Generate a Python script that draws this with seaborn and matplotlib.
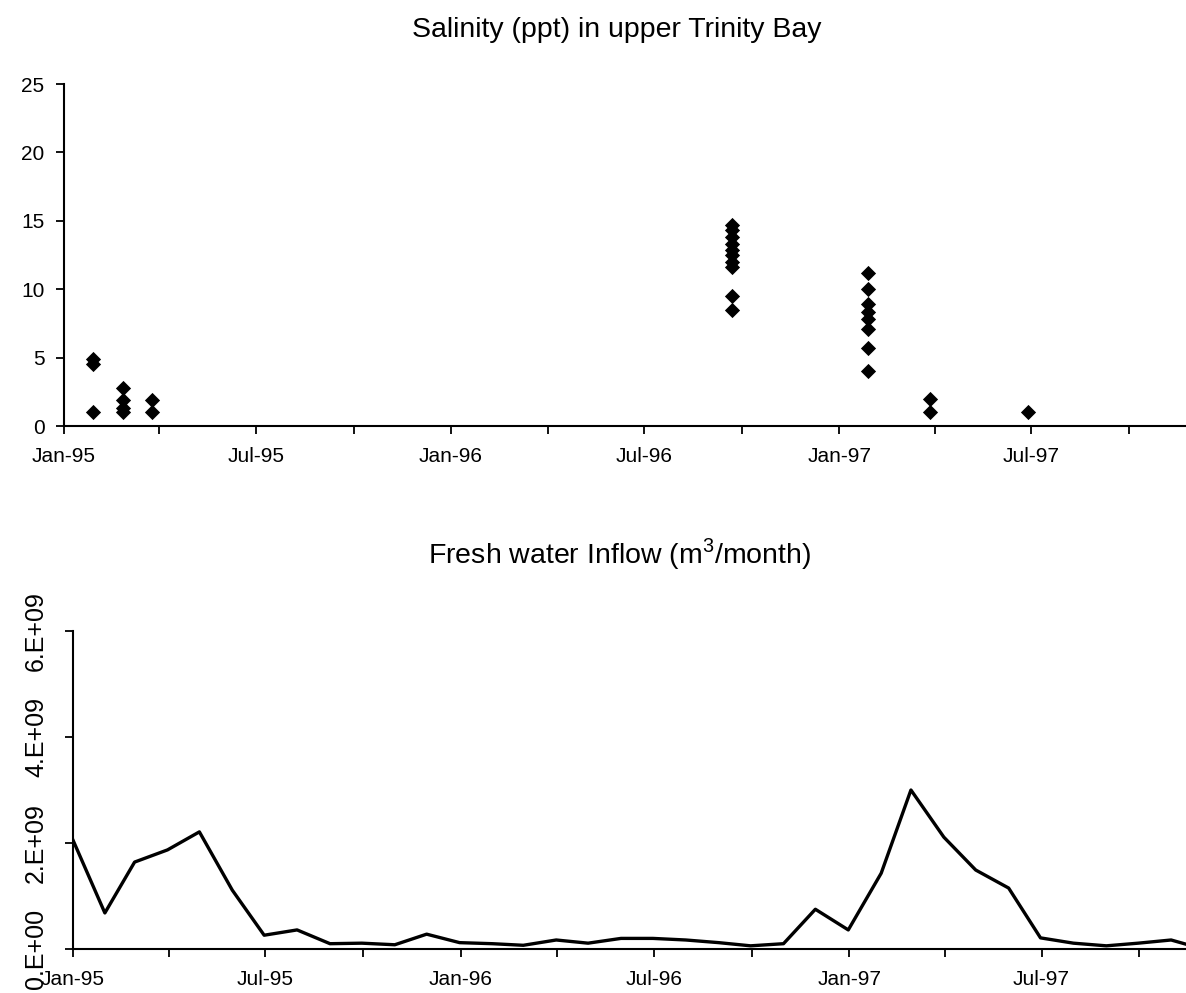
import matplotlib
matplotlib.use("Agg")
import matplotlib.pyplot as plt
import matplotlib.dates as mdates
from matplotlib.ticker import FuncFormatter, MultipleLocator
import numpy as np
import pandas as pd
import seaborn as sns

# --- Salinity samples (ppt), grouped by survey date ---
survey_dates = ["1995-01-28", "1995-02-26", "1995-03-25", "1996-09-22",
                "1997-01-28", "1997-03-28", "1997-06-28"]
salinity_by_survey = [
    [4.9, 4.5, 1.0],
    [2.8, 1.9, 1.3, 1.0],
    [1.9, 1.0],
    [14.7, 14.3, 13.8, 13.3, 12.9, 12.5, 12.0, 11.6, 9.5, 8.5],
    [11.2, 10.0, 8.9, 8.3, 7.8, 7.1, 5.7, 4.0],
    [2.0, 1.0],
    [1.0],
]

# --- Monthly fresh water inflow (m^3/month), month-end values ---
inflow_months = pd.date_range("1994-12-01", "1997-11-01", freq="MS").strftime("%Y-%m").tolist()
inflow_m3 = [2.10e9, 0.68e9, 1.64e9, 1.87e9, 2.21e9, 1.11e9, 0.26e9, 0.36e9,
             0.10e9, 0.11e9, 0.08e9, 0.28e9, 0.12e9, 0.10e9, 0.07e9, 0.17e9,
             0.11e9, 0.20e9, 0.20e9, 0.17e9, 0.12e9, 0.06e9, 0.10e9, 0.75e9,
             0.36e9, 1.43e9, 3.00e9, 2.11e9, 1.49e9, 1.15e9, 0.21e9, 0.11e9,
             0.06e9, 0.11e9, 0.17e9, 0.00e9]

sal_df = pd.DataFrame({
    "date": pd.to_datetime([d for d, vals in zip(survey_dates, salinity_by_survey) for _ in vals]),
    "salinity": [v for vals in salinity_by_survey for v in vals],
})
flow_df = pd.DataFrame({
    "date": pd.to_datetime(inflow_months) + pd.offsets.MonthEnd(0),
    "inflow": inflow_m3,
})

sns.set_theme(style="ticks")
plt.rcParams["font.family"] = ["Liberation Sans", "DejaVu Sans"]
plt.rcParams["axes.linewidth"] = 1.5
plt.rcParams["text.color"] = "black"
plt.rcParams["axes.titlecolor"] = "black"
plt.rcParams["mathtext.fontset"] = "custom"
plt.rcParams["mathtext.rm"] = "Liberation Sans"

W, H = 1186, 993
fig = plt.figure(figsize=(W / 100, H / 100), dpi=100)
fig.patch.set_facecolor("white")

ax1 = fig.add_axes([64 / W, (H - 426) / H, (W - 64) / W, 342 / H])
ax2 = fig.add_axes([73 / W, (H - 949) / H, (W - 73) / W, 318 / H])

tick_fs = 15
title_fs = 20.5


def month_label(x, pos):
    d = mdates.num2date(x)
    return d.strftime("%b-%y") if d.month in (1, 7) else ""


def sci_label(v, pos):
    if v == 0:
        return "0.E+00"
    e = int(np.floor(np.log10(abs(v))))
    return f"{v / 10 ** e:.0f}.E+{e:02d}"


# Salinity scatter
sns.scatterplot(data=sal_df, x="date", y="salinity", ax=ax1, marker="D",
                s=60, color="black", linewidth=0, legend=False, clip_on=False)
ax1.set_xlim(pd.Timestamp("1995-01-01"), pd.Timestamp("1997-11-24"))
ax1.set_ylim(0, 25)
ax1.yaxis.set_major_locator(MultipleLocator(5))
ax1.set_title("Salinity (ppt) in upper Trinity Bay", fontsize=title_fs,
              pad=34, x=0.493, color="black")

# Fresh water inflow line
sns.lineplot(data=flow_df, x="date", y="inflow", ax=ax2, color="black",
             linewidth=2.4)
ax2.set_xlim(pd.Timestamp("1995-01-01"), pd.Timestamp("1997-11-14"))
ax2.set_ylim(0, 6e9)
ax2.yaxis.set_major_locator(MultipleLocator(2e9))
ax2.yaxis.set_major_formatter(FuncFormatter(sci_label))
ax2.set_title("Fresh water Inflow (m$^3$/month)", fontsize=title_fs,
              pad=49, x=0.491, color="black")

for ax in (ax1, ax2):
    sns.despine(ax=ax)
    ax.set_facecolor("white")
    ax.set_xlabel("")
    ax.set_ylabel("")
    ax.xaxis.set_major_locator(mdates.MonthLocator(bymonth=[1, 4, 7, 10]))
    ax.xaxis.set_major_formatter(FuncFormatter(month_label))
    ax.tick_params(axis="x", direction="out", length=6, width=1.3,
                   labelsize=tick_fs, pad=9, colors="black")
    ax.tick_params(axis="y", direction="out", length=6, width=1.3,
                   labelsize=tick_fs, colors="black")
    for s in ("left", "bottom"):
        ax.spines[s].set_color("black")

ax1.tick_params(axis="y", pad=8)
ax2.tick_params(axis="y", pad=12, labelsize=18)
for lab in ax2.get_yticklabels():
    lab.set_rotation(90)
    lab.set_va("center")

fig.savefig("out.png", dpi=100, facecolor="white")
